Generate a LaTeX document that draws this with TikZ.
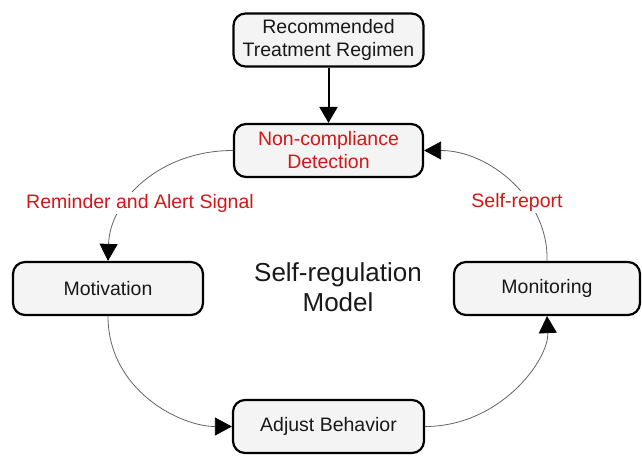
\documentclass[tikz,border=0pt]{standalone}
\usepackage{fontspec}
\setmainfont{Liberation Sans}
\usetikzlibrary{arrows.meta}
\definecolor{boxfill}{RGB}{244,244,244}
\definecolor{lblred}{RGB}{214,22,22}
\definecolor{linegray}{RGB}{100,100,100}
\begin{document}
\begin{tikzpicture}[x=1pt,y=-1pt,
  box/.style={draw=black, line width=2.2pt, fill=boxfill, rounded corners=12pt,
    minimum height=53pt, align=center, inner sep=0pt,
    font=\fontsize{19.5}{23}\selectfont, text=black!90},
  lbl/.style={text=lblred, fill=white, inner sep=2pt, font=\fontsize{19.5}{23}\selectfont},
  conn/.style={draw=linegray, line width=0.8pt,
    -{Triangle[length=17pt,width=18pt,fill=black,color=black]}},
  thickconn/.style={draw=black, line width=2pt,
    -{Triangle[length=16pt,width=18pt,fill=black,color=black]}}]
\useasboundingbox (0,0) rectangle (642,455);
\fill[white] (0,0) rectangle (642,455);

\node[box, minimum width=190pt] (rec) at (328.5,40) {Recommended\\Treatment Regimen};
\node[box, minimum width=189pt] (nc) at (328.5,150.5) {\textcolor{lblred}{Non-compliance}\\\textcolor{lblred}{Detection}};
\node[box, minimum width=190pt] (mot) at (108,288.5) {Motivation};
\node[box, minimum width=186pt] (mon) at (547,288.5) {Monitoring};
\node[box, minimum width=191pt] (adj) at (328.5,426.5) {Adjust Behavior};

\node[font=\fontsize{26}{30}\selectfont, align=center, text=black!90] (model) at (338,287) {Self-regulation\\Model};

\draw[thickconn] (rec.south) -- (nc.north);

\draw[conn] (nc.west) .. controls (160,150.5) and (110,200) .. (mot.north);
\node[lbl] (l1) at (140,203) {Reminder and Alert Signal};

\draw[conn] (mon.north) .. controls (549,200) and (490,150.5) .. (nc.east);
\node[lbl] (l2) at (517,202) {Self-report};

\draw[conn] (mot.south) .. controls (108,390) and (180,426.5) .. (adj.west);
\draw[conn] (adj.east) .. controls (500,426.5) and (549,360) .. (mon.south);
\end{tikzpicture}
\end{document}
